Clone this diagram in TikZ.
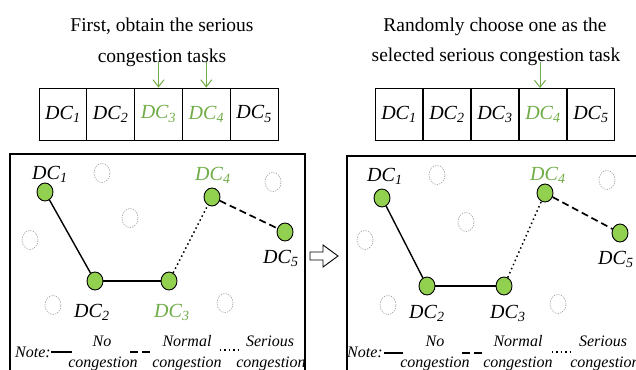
\documentclass[tikz,border=0pt]{standalone}
\usepackage{fontspec}
\setmainfont{Liberation Serif}
\usetikzlibrary{shapes.geometric,arrows.meta}
\definecolor{dcgreen}{RGB}{112,173,71}
\definecolor{dcfill}{RGB}{146,208,80}
\newcommand\dcl[1]{\textit{DC}\textsubscript{\textit{#1}}}
\tikzset{
  title/.style={font=\fontsize{19.5}{23}\selectfont, anchor=base, inner sep=0pt},
  cell/.style={draw, line width=0.9pt, minimum width=47.8pt, minimum height=52pt,
    inner sep=0pt, font=\fontsize{20}{24}\selectfont},
  dc/.style={ellipse, draw, line width=0.9pt, fill=dcfill, minimum width=16pt,
    minimum height=18pt, inner sep=0pt},
  ghost/.style={ellipse, draw=gray!80, line width=0.6pt, dash pattern=on 1.2pt off 1.2pt,
    minimum width=16pt, minimum height=19pt, inner sep=0pt},
  lbl/.style={anchor=base west, inner sep=0pt, font=\fontsize{20}{24}\selectfont},
  leg/.style={anchor=base, inner sep=0pt, font=\fontsize{16}{19}\selectfont\itshape},
  link/.style={line width=1.4pt},
  normal/.style={line width=1.7pt, dash pattern=on 7pt off 4pt},
  serious/.style={line width=1.5pt, dash pattern=on 1.5pt off 3pt},
  garrow/.style={draw=dcgreen, line width=1pt, -{Straight Barb[length=7pt,width=11pt,line width=1pt]}},
  frame/.style={draw, line width=1.1pt},
}
\begin{document}
\begin{tikzpicture}[x=1pt,y=-1pt]
\clip (0,0) rectangle (636,369);
\fill[white] (0,0) rectangle (636,369);

% ---------- left half: detecting the serious congestion tasks ----------
\node[title] (tl1) at (162,32) {First, obtain the serious};
\node[title] (tl2) at (162,62) {congestion tasks};

\node[cell] (cL1) at (62.9,114) {\dcl{1}};
\node[cell] (cL2) at (110.7,114) {\dcl{2}};
\node[cell, text=dcgreen] (cL3) at (158.5,114) {\dcl{3}};
\node[cell, text=dcgreen] (cL4) at (206.3,114) {\dcl{4}};
\node[cell] (cL5) at (254.1,114) {\dcl{5}};

\coordinate (pL3) at (158.5,62);
\coordinate (pL4) at (206.3,62);
\draw[garrow] (pL3) -- (cL3.north);
\draw[garrow] (pL4) -- (cL4.north);

\draw[frame] (10,154) rectangle (305,380);

\node[ghost] (gL1) at (102,173) {};
\node[ghost] (gL2) at (273,182) {};
\node[ghost] (gL3) at (130,218) {};
\node[ghost] (gL4) at (30,240) {};
\node[ghost] (gL5) at (53,305) {};
\node[ghost] (gL6) at (225,303) {};

\node[dc] (nL1) at (45,192) {};
\node[dc] (nL2) at (95,281) {};
\node[dc] (nL3) at (169,281) {};
\node[dc] (nL4) at (212,197) {};
\node[dc] (nL5) at (285,232) {};

\draw[link] (nL1) -- (nL2);
\draw[link] (nL2) -- (nL3);
\draw[serious] (nL3) -- (nL4);
\draw[normal] (nL4) -- (nL5);

\node[lbl] (xL1) at (32,179) {\dcl{1}};
\node[lbl] (xL2) at (74,317) {\dcl{2}};
\node[lbl, text=dcgreen] (xL3) at (154,317) {\dcl{3}};
\node[lbl, text=dcgreen] (xL4) at (195,180) {\dcl{4}};
\node[lbl] (xL5) at (263,263) {\dcl{5}};

% legend
\node[leg, anchor=base west] (nL) at (15,357) {Note:};
\coordinate (sL1) at (51,352); \coordinate (sL2) at (72,352);
\draw[line width=1.6pt] (sL1) -- (sL2);
\node[leg] (noL) at (102,346) {No};
\node[leg] (ncL) at (103,367) {congestion};
\coordinate (dL1) at (130,352); \coordinate (dL2) at (150,352);
\draw[line width=2pt, dash pattern=on 8pt off 4pt] (dL1) -- (dL2);
\node[leg] (nmL) at (187,346) {Normal};
\node[leg] (mcL) at (187,367) {congestion};
\coordinate (oL1) at (220,350); \coordinate (oL2) at (241,350);
\draw[line width=1.4pt, dash pattern=on 1.4pt off 3pt] (oL1) -- (oL2);
\node[leg] (srL) at (270,346) {Serious};
\node[leg] (scL) at (271,367) {congestion};

% ---------- hollow arrow ----------
\draw[line width=0.9pt, fill=white, line join=miter]
  (310,252) -- (323,252) -- (323,245) -- (338,256) -- (323,267) -- (323,260) -- (310,260) -- cycle;

% ---------- right half: choosing one task ----------
\node[title] (tr1) at (495,32) {Randomly choose one as the};
\node[title] (tr2) at (496,61) {selected serious congestion task};

\node[cell] (cR1) at (399,114.5) {\dcl{1}};
\node[cell] (cR2) at (447,114.5) {\dcl{2}};
\node[cell] (cR3) at (495,114.5) {\dcl{3}};
\node[cell, text=dcgreen] (cR4) at (543,114.5) {\dcl{4}};
\node[cell] (cR5) at (591,114.5) {\dcl{5}};

\coordinate (pR4) at (540,62);
\draw[garrow] (pR4) -- (pR4 |- cR4.north);

\draw[frame] (347,156) rectangle (645,380);

\node[ghost] (gR1) at (437,175) {};
\node[ghost] (gR2) at (607,180) {};
\node[ghost] (gR3) at (466,222) {};
\node[ghost] (gR4) at (365,240) {};
\node[ghost] (gR5) at (388,305) {};
\node[ghost] (gR6) at (558,304) {};

\node[dc] (nR1) at (382,198) {};
\node[dc] (nR2) at (427,286) {};
\node[dc] (nR3) at (504,286) {};
\node[dc] (nR4) at (545,193) {};
\node[dc] (nR5) at (620,233) {};

\draw[link] (nR1) -- (nR2);
\draw[link] (nR2) -- (nR3);
\draw[serious] (nR3) -- (nR4);
\draw[normal] (nR4) -- (nR5);

\node[lbl] (xR1) at (367,181) {\dcl{1}};
\node[lbl] (xR2) at (409,318) {\dcl{2}};
\node[lbl] (xR3) at (490,318) {\dcl{3}};
\node[lbl, text=dcgreen] (xR4) at (530,180) {\dcl{4}};
\node[lbl] (xR5) at (598,264) {\dcl{5}};

% legend
\node[leg, anchor=base west] (nR) at (347,357) {Note:};
\coordinate (sR1) at (384,353); \coordinate (sR2) at (403,353);
\draw[line width=1.6pt] (sR1) -- (sR2);
\node[leg] (noR) at (435,346) {No};
\node[leg] (ncR) at (435,367) {congestion};
\coordinate (dR1) at (462,353); \coordinate (dR2) at (482,353);
\draw[line width=2pt, dash pattern=on 8pt off 4pt] (dR1) -- (dR2);
\node[leg] (nmR) at (518,346) {Normal};
\node[leg] (mcR) at (518,367) {congestion};
\coordinate (oR1) at (552,352); \coordinate (oR2) at (573,352);
\draw[line width=1.4pt, dash pattern=on 1.4pt off 3pt] (oR1) -- (oR2);
\node[leg] (srR) at (603,346) {Serious};
\node[leg] (scR) at (605,367) {congestion};
\end{tikzpicture}
\end{document}
